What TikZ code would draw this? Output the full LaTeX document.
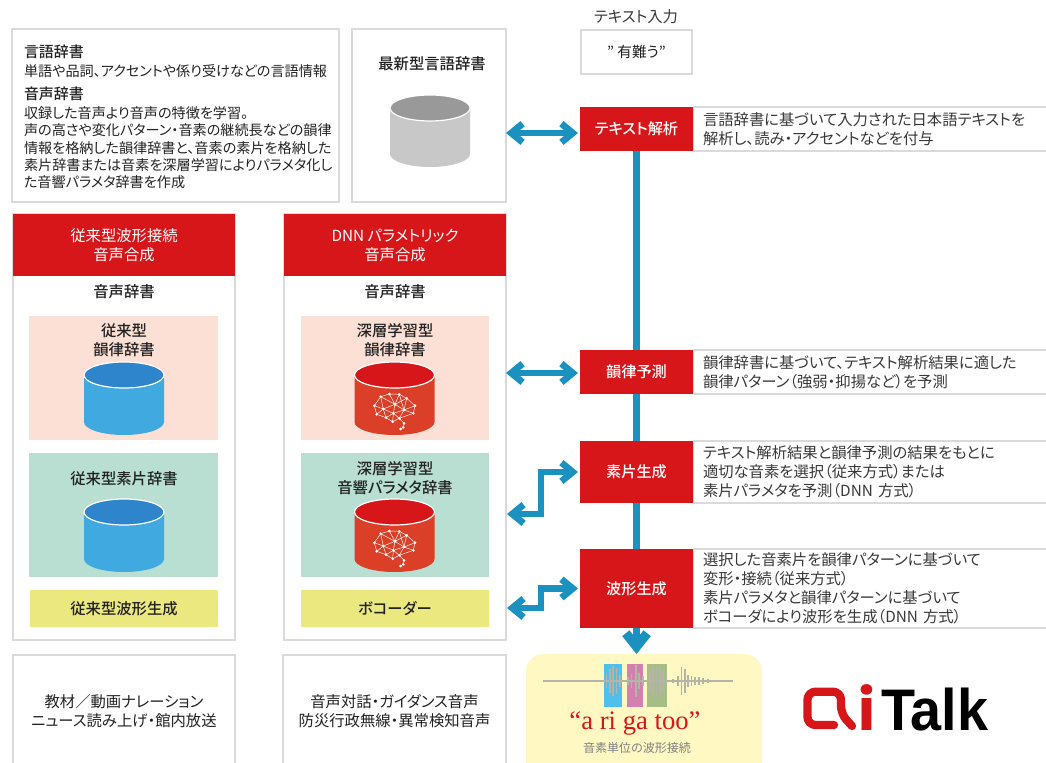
\documentclass[tikz,border=0pt]{standalone}
\usepackage{fontspec}
\setmainfont{Noto Sans CJK JP}[RawFeature=+palt,BoldFont={Noto Sans CJK JP Medium}]
\newfontfamily\latinser{Liberation Serif}
\newfontfamily\logofont{Liberation Sans}
\newfontfamily\logoi{Poppins}
\usetikzlibrary{arrows.meta}
\definecolor{mainred}{HTML}{D7161A}
\definecolor{rule}{HTML}{DADADA}
\definecolor{flow}{HTML}{1B91C0}
\definecolor{pinkbg}{HTML}{FCE0D6}
\definecolor{greenbg}{HTML}{B9DFD2}
\definecolor{yellowbg}{HTML}{EAE87F}
\definecolor{resultbg}{HTML}{FFF8C2}
\definecolor{ink}{HTML}{222222}
\definecolor{cylredbody}{HTML}{DC3F27}
\definecolor{cylbluebody}{HTML}{3FA9E0}
\definecolor{cylbluetop}{HTML}{2E85CC}
\definecolor{cylgraybody}{HTML}{C8C8C8}
\definecolor{cylgraytop}{HTML}{999999}
\definecolor{wave}{HTML}{B4B4A8}
\definecolor{wavecyan}{HTML}{4FC0EC}
\definecolor{wavepink}{HTML}{D37FB0}
\definecolor{wavegreen}{HTML}{A7BD88}
\tikzset{
  x=0.75pt,y=-0.75pt,
  every node/.style={inner sep=0pt,outer sep=0pt,text=ink},
  sz/.style 2 args={minimum width=#1*0.75pt,minimum height=#2*0.75pt},
  graybox/.style={draw=rule,line width=1.1pt,fill=white},
  redbox/.style={fill=mainred,text=white,font=\fontsize{11.4}{14.25}\selectfont\bfseries,align=center},
  desc/.style={draw=rule,line width=1.1pt,fill=white,align=left,text width=336*0.75pt,
     font=\fontsize{11.5}{14.25}\selectfont,text=ink!90},
  head/.style={font=\fontsize{11.5}{14.25}\selectfont\bfseries,align=center},
  body/.style={font=\fontsize{11.5}{14.5}\selectfont,align=center},
  flowline/.style={draw=flow,line width=5.25pt},
  both/.style={draw=flow,line width=5pt,{Straight Barb[length=8.5pt,width=14pt,line width=5pt]}-{Straight Barb[length=8.5pt,width=14pt,line width=5pt]},shorten >=1.5pt},
}
\newcommand{\cyl}[5]{% cx, ytop, ybottom, body, top
  \fill[#4] (#1-40,#2) -- (#1-40,#3-13) arc[start angle=180,end angle=360,x radius=30pt,y radius=9.75pt] -- (#1+40,#2) -- cycle;
  \draw[white,line width=0.9pt,fill=#5] (#1,#2) ellipse[x radius=30pt,y radius=9.75pt];
}
\newcommand{\brain}[2]{%
  \begin{scope}[shift={(#1,#2)},white,line width=0.35pt,line join=round]
    \coordinate (a) at (-13.8,-10.3);\coordinate (b) at (-5.2,-13);\coordinate (c) at (4.8,-12.7);
    \coordinate (d) at (12.2,-8.7);\coordinate (e) at (20.5,-1.3);\coordinate (f) at (18.8,6.3);
    \coordinate (g) at (9.5,3);\coordinate (h) at (.5,-2.7);\coordinate (i) at (-11.2,2);
    \coordinate (j) at (-20.2,-1.3);\coordinate (k) at (-17.8,7.3);\coordinate (l) at (-8.5,10.7);
    \coordinate (m) at (-1.8,14.7);\coordinate (n) at (4.8,11.3);\coordinate (o) at (9.5,16.3);
    \coordinate (p) at (8.8,20.3);\coordinate (q) at (6.2,22);\coordinate (r) at (-1.2,6.3);
    \draw (j)--(a)--(b)--(c)--(d)--(e)--(f)--(n)--(m)--(l)--(k)--(j);
    \draw (a)--(h)--(b) (c)--(h)--(d) (h)--(g)--(d) (g)--(e) (g)--(f) (g)--(n)--(o)--(p)--(q);
    \draw (j)--(i)--(a) (i)--(h) (i)--(k) (i)--(l) (i)--(r)--(h) (r)--(g) (r)--(l) (r)--(m) (r)--(n) (c)--(g);
    \foreach \q in {a,b,c,d,e,f,g,h,i,j,k,l,m,n,o,p,q,r} \fill (\q) circle[radius=1.1pt];
  \end{scope}
}
\begin{document}
\begin{tikzpicture}
\useasboundingbox (0,0) rectangle (1046,763);
\fill[white] (0,0) rectangle (1046,763);

% top left
\node[graybox,sz={327}{173}] (info) at (175.5,115.5) {};
\node[anchor=north west,align=left,font=\fontsize{10.6}{12.9}\selectfont] (infotext) at (24,44.5) {%
  {\fontsize{11.2}{12.9}\selectfont\bfseries 言語辞書}\\[1.5pt]
  単語や品詞、アクセントや係り受けなどの言語情報\\[4.5pt]
  {\fontsize{11.2}{12.9}\selectfont\bfseries 音声辞書}\\[1.5pt]
  収録した音声より音声の特徴を学習。\\
  声の高さや変化パターン・音素の継続長などの韻律\\
  情報を格納した韻律辞書と、音素の素片を格納した\\
  素片辞書または音素を深層学習によりパラメタ化し\\
  た音響パラメタ辞書を作成};
\node[graybox,sz={154}{173}] (latest) at (429,115.5) {};
\node[head] (latesttitle) at (432,64) {最新型言語辞書};
\cyl{430}{108}{167}{cylgraybody}{cylgraytop}

% panels
\node[graybox,sz={222}{426}] (panelA) at (124,427) {};
\node[graybox,sz={222}{426}] (panelB) at (395,427) {};
\node[redbox,sz={222}{62},font=\fontsize{11.5}{14.25}\selectfont] (headA) at (124,245) {従来型波形接続\\音声合成};
\node[redbox,sz={222}{62},font=\fontsize{11.5}{14.25}\selectfont] (headB) at (395,245) {DNN パラメトリック\\音声合成};
\node[head] (voiceA) at (124,292) {音声辞書};
\node[head] (voiceB) at (395,292) {音声辞書};

\node[fill=pinkbg,sz={189}{124}] (pinkA) at (123.5,378) {};
\node[fill=pinkbg,sz={188}{124}] (pinkB) at (395,378) {};
\node[fill=greenbg,sz={189}{124}] (greenA) at (123.5,515) {};
\node[fill=greenbg,sz={188}{124}] (greenB) at (395,515) {};
\node[fill=yellowbg,sz={188}{37},head] (yellowA) at (124,608.5) {従来型波形生成};
\node[fill=yellowbg,sz={188}{37},head] (yellowB) at (395,608.5) {ボコーダー};

\node[head] (tpinkA) at (124,340) {従来型\\韻律辞書};
\node[head] (tpinkB) at (395,340) {深層学習型\\韻律辞書};
\node[head] (tgreenA) at (124,479) {従来型素片辞書};
\node[head] (tgreenB) at (395,478) {深層学習型\\音響パラメタ辞書};

\cyl{124}{375}{435}{cylbluebody}{cylbluetop}
\cyl{124}{512}{572}{cylbluebody}{cylbluetop}
\cyl{394.5}{375}{435}{cylredbody}{mainred}
\cyl{394.5}{512}{572}{cylredbody}{mainred}
\brain{394.5}{407}
\brain{394.5}{544}

% bottom
\node[graybox,sz={222}{112},body] (useA) at (124,711) {教材／動画ナレーション\\ニュース読み上げ・館内放送};
\node[graybox,sz={223}{112},body] (useB) at (394.5,711) {音声対話・ガイダンス音声\\防災行政無線・異常検知音声};
\node[fill=resultbg,rounded corners=13pt,sz={236}{124}] (result) at (644,716) {};

% wave
\node[fill=wavecyan,sz={18}{43}] (ra) at (613.3,685.8) {};
\node[fill=wavepink,sz={16}{43}] (rb) at (634.5,685.8) {};
\node[fill=wavegreen,sz={20}{43}] (rc) at (656.8,685.8) {};
\draw[wave,line width=1pt] (543,681) -- (733,681);
\foreach \x/\h in {606.7/7,610/12,613/15,616.7/13,620/6,628/4,631.7/7,636/16,639/8,643/5,650/12,653/15,656.7/15,660/14,663/10,666.7/4,673/2,678/5,681.7/14,685/12,688/6,691.7/5,695/4,699/4,703/3,708/2}
  \draw[wave,line width=0.9pt] (\x,681-\h) -- (\x,681+\h);
\node[font=\latinser\fontsize{20}{20}\selectfont,text=mainred] (spoken) at (635,723) {“a ri ga too”};
\node[font=\fontsize{9}{11}\selectfont,text=black!50] (unit) at (637,748) {音素単位の波形接続};

% logo
\draw[mainred,line width=6.2pt,line cap=round,line join=round,rounded corners=6pt]
  (852,726) -- (841,714) -- (841,691.7) -- (807.5,691.7) -- (807.5,725) -- (834,725);
\node[font=\logoi\fontsize{43}{43}\selectfont\bfseries,text=mainred,anchor=base] (logoi) at (866.5,730) {i};
\node[font=\logofont\fontsize{44}{44}\selectfont\bfseries,text=black,anchor=base west,xscale=0.95] (logot) at (881,730) {Talk};

% top input
\node[font=\fontsize{11.5}{12}\selectfont,text=ink!90] (inputlabel) at (636,17) {テキスト入力};
\node[graybox,sz={111}{44},font=\fontsize{11}{14}\selectfont] (input) at (636.5,52) {” 有難う”};

% process chain
\node[redbox,sz={113}{44}] (p1) at (636.5,129) {テキスト解析};
\node[redbox,sz={113}{44}] (p2) at (636.5,372) {韻律予測};
\node[redbox,sz={113}{62}] (p3) at (636.5,472) {素片生成};
\node[redbox,sz={113}{79}] (p4) at (636.5,588.5) {波形生成};

\node[desc,sz={355}{44}] (d1) at (871,129) {言語辞書に基づいて入力された日本語テキストを\\解析し、読み・アクセントなどを付与};
\node[desc,sz={355}{44}] (d2) at (871,372) {韻律辞書に基づいて、テキスト解析結果に適した\\韻律パターン（強弱・抑揚など）を予測};
\node[desc,sz={355}{62}] (d3) at (871,472) {テキスト解析結果と韻律予測の結果をもとに\\適切な音素を選択（従来方式）または\\素片パラメタを予測（DNN 方式）};
\node[desc,sz={355}{79}] (d4) at (871,588.5) {選択した音素片を韻律パターンに基づいて\\変形・接続（従来方式）\\素片パラメタと韻律パターンに基づいて\\ボコーダにより波形を生成（DNN 方式）};

\draw[flowline] (p1) -- (p2);
\draw[flowline] (p2) -- (p3);
\draw[flowline] (p3) -- (p4);
\draw[flow,line width=5.25pt,-{Straight Barb[length=10pt,width=16pt,line width=7pt]}] (p4.south) -- (result.north -| p4.south);

\coordinate (a1) at ([yshift=-3pt]p1.west);
\coordinate (a2) at ([yshift=-0.75pt]p2.west);
\coordinate (e1) at (507,514);
\coordinate (e2) at (507,608);
\draw[both] (latest.east |- a1) -- (a1);
\draw[both] (panelB.east |- a2) -- (a2);
\draw[both] (e1) -- (541,514) -- (541,472) -- (p3.west);
\draw[both] (e2) -- (541,608) -- (541,588.5) -- (p4.west);
\end{tikzpicture}
\end{document}
